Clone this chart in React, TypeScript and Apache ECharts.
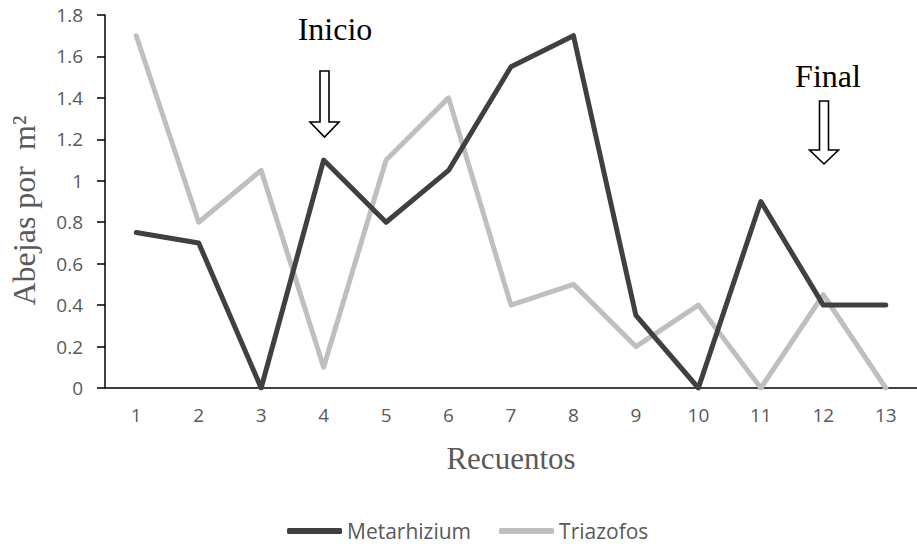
import React, { useEffect, useRef } from "react";
import * as echarts from "echarts";

const categories = ["1", "2", "3", "4", "5", "6", "7", "8", "9", "10", "11", "12", "13"];
const metarhizium = [0.75, 0.7, 0, 1.1, 0.8, 1.05, 1.55, 1.7, 0.35, 0, 0.9, 0.4, 0.4];
const triazofos = [1.7, 0.8, 1.05, 0.1, 1.1, 1.4, 0.4, 0.5, 0.2, 0.4, 0, 0.45, 0];
const seriesNames = ["Metarhizium", "Triazofos"];
const yTitle = "Abejas por  m²";
const xTitle = "Recuentos";
const annotations = ["Inicio", "Final"];

function arrow(cx: number, top: number, headY: number, tip: number, shaftHalf: number, headHalf: number) {
  return {
    type: "polygon",
    shape: {
      points: [
        [cx - shaftHalf, top],
        [cx + shaftHalf, top],
        [cx + shaftHalf, headY],
        [cx + headHalf, headY],
        [cx, tip],
        [cx - headHalf, headY],
        [cx - shaftHalf, headY],
      ],
    },
    style: { fill: "#ffffff", stroke: "#000000", lineWidth: 1.6 },
    z: 10,
  };
}

export default function App() {
  const ref = useRef<HTMLDivElement>(null);
  useEffect(() => {
    if (!ref.current) return;
    const chart = echarts.init(ref.current, undefined, { renderer: "svg" });
    const tickFont = "'Open Sans', 'Noto Sans', sans-serif";
    const serif = "'Liberation Serif', 'Times New Roman', serif";
    chart.setOption({
      animation: false,
      backgroundColor: "#ffffff",
      grid: { left: 105, right: -8, top: 15, bottom: 156, containLabel: false },
      legend: {
        data: seriesNames,
        left: 287,
        top: 520,
        padding: 0,
        icon: "roundRect",
        itemWidth: 55,
        itemHeight: 6,
        itemGap: 28,
        textStyle: { color: "#595959", fontSize: 21, fontFamily: tickFont, lineHeight: 22 },
      },
      xAxis: {
        type: "category",
        data: categories,
        boundaryGap: true,
        axisLine: { show: true, lineStyle: { color: "#000000", width: 1.5 } },
        axisTick: { show: false },
        axisLabel: { color: "#595959", fontSize: 19, fontFamily: tickFont, margin: 17 },
        splitLine: { show: false },
        name: xTitle,
        nameLocation: "middle",
        nameGap: 55,
        nameTextStyle: { color: "#595959", fontSize: 31, fontFamily: serif },
      },
      yAxis: {
        type: "value",
        min: 0,
        max: 1.8,
        interval: 0.2,
        axisLine: { show: true, lineStyle: { color: "#000000", width: 1.5 } },
        axisTick: { show: true, length: 8, lineStyle: { color: "#000000", width: 1.5 } },
        axisLabel: {
          color: "#595959",
          fontSize: 19,
          fontFamily: tickFont,
          margin: 22,
          formatter: (v: number) => String(Math.round(v * 10) / 10),
        },
        splitLine: { show: false },
        name: yTitle,
        nameLocation: "middle",
        nameRotate: 90,
        nameGap: 65,
        nameTextStyle: { color: "#595959", fontSize: 32, fontFamily: serif, padding: [0, 18, 0, 0] },
      },
      series: [
        {
          name: seriesNames[0],
          type: "line",
          data: metarhizium,
          symbol: "none",
          itemStyle: { color: "#404040" },
          lineStyle: { color: "#404040", width: 5, cap: "round", join: "round" },
          z: 3,
        },
        {
          name: seriesNames[1],
          type: "line",
          data: triazofos,
          symbol: "none",
          itemStyle: { color: "#bfbfbf" },
          lineStyle: { color: "#bfbfbf", width: 5, cap: "round", join: "round" },
          z: 2,
        },
      ],
      graphic: [
        {
          type: "text",
          x: 335,
          y: 45,
          style: {
            text: annotations[0],
            fontSize: 32,
            fontFamily: serif,
            fill: "#000000",
            align: "center",
            verticalAlign: "bottom",
          },
        },
        {
          type: "text",
          x: 828,
          y: 92,
          style: {
            text: annotations[1],
            fontSize: 32,
            fontFamily: serif,
            fill: "#000000",
            align: "center",
            verticalAlign: "bottom",
          },
        },
        arrow(324.5, 71, 122, 137, 4.5, 14.5),
        arrow(824, 101, 150, 164, 4.5, 14.5),
      ],
    });
    return () => chart.dispose();
  }, []);
  return (
    <div
      ref={ref}
      style={{ position: "absolute", left: 0, top: 0, width: 917, height: 544, overflow: "hidden" }}
    />
  );
}
